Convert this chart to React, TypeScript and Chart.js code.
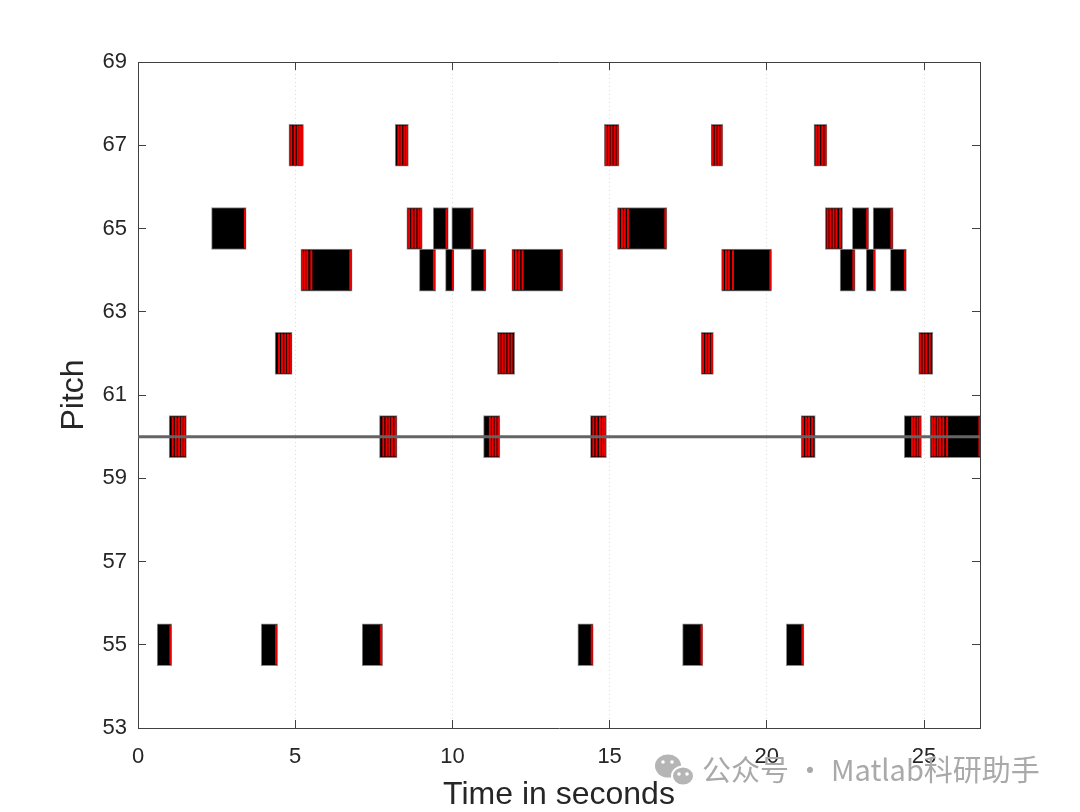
import React, { useEffect, useRef } from "react";
import { Chart, registerables } from "chart.js";

Chart.register(...registerables);

// ---------- data ----------
const notePitch = [55, 60, 65, 55, 62, 67, 64, 55, 60, 67, 65, 64, 65, 64, 65, 64, 60, 62, 64, 55, 60, 67, 65, 55, 62, 67, 64, 55, 60, 67, 65, 64, 65, 64, 65, 64, 60, 62, 60];
const noteStart = [0.61, 0.99, 2.34, 3.92, 4.36, 4.8, 5.18, 7.13, 7.68, 8.18, 8.55, 8.95, 9.39, 9.78, 9.98, 10.59, 10.99, 11.43, 11.89, 13.99, 14.39, 14.83, 15.25, 17.32, 17.91, 18.23, 18.56, 20.62, 21.09, 21.5, 21.86, 22.33, 22.72, 23.16, 23.38, 23.93, 24.37, 24.83, 25.19];
const noteEnd = [1.07, 1.54, 3.44, 4.44, 4.9, 5.26, 6.81, 7.78, 8.24, 8.6, 9.04, 9.47, 9.87, 10.05, 10.67, 11.07, 11.51, 11.98, 13.51, 14.48, 14.9, 15.3, 16.82, 17.96, 18.3, 18.6, 20.15, 21.18, 21.54, 21.91, 22.41, 22.81, 23.24, 23.46, 24.02, 24.44, 24.92, 25.28, 26.83];
// red onset / offset marks inside each note (seconds)
const noteStripes = [
  [1.01],
  [1.08, 1.18, 1.28, 1.37, 1.45],
  [3.38],
  [4.37],
  [4.46, 4.56, 4.66, 4.75, 4.84],
  [4.85, 4.96, 5.06, 5.13, 5.2],
  [5.2, 5.28, 5.36, 5.49, 6.73],
  [7.71],
  [7.78, 7.88, 7.97, 8.06, 8.16],
  [8.26, 8.35, 8.45, 8.53],
  [8.6, 8.7, 8.8, 8.9, 8.98],
  [9.39],
  [9.79],
  [9.99],
  [10.59],
  [11.0],
  [11.17, 11.26, 11.35, 11.44],
  [11.48, 11.57, 11.66, 11.76, 11.86],
  [11.91, 12.0, 12.1, 12.21, 13.44],
  [14.41],
  [14.46, 14.56, 14.67, 14.76, 14.83],
  [14.86, 14.95, 15.04, 15.14, 15.23],
  [15.27, 15.37, 15.46, 15.56, 16.75],
  [17.9],
  [17.95, 18.05, 18.14, 18.23],
  [18.25, 18.35, 18.44, 18.53],
  [18.58, 18.68, 18.77, 18.9, 20.09],
  [21.11],
  [21.13, 21.23, 21.32, 21.42],
  [21.55, 21.64, 21.74, 21.84],
  [21.91, 22.0, 22.1, 22.19, 22.31],
  [22.73],
  [23.17],
  [23.39],
  [23.94],
  [24.37],
  [24.6, 24.68, 24.77, 24.85],
  [24.86, 24.96, 25.05, 25.16],
  [25.24, 25.32, 25.41, 25.49, 25.59, 25.71, 26.74],
];
const refPitch = 60;
const xMin = 0;
const xMax = 26.78;
const yMin = 53;
const yMax = 69;
const xTicks = [0, 5, 10, 15, 20, 25];
const yTicks = [53, 55, 57, 59, 61, 63, 65, 67, 69];
const xLabel = "Time in seconds";
const yLabel = "Pitch";
const watermark = "公众号 · Matlab科研助手";

const STRIPE_W = 0.045;
const FONT = '"Liberation Sans", Arial, Helvetica, sans-serif';
const AX = "#404040";
const TXT = "#262626";

const textPlugin = {
  id: "textPlugin",
  afterDraw(chart: any) {
    const { ctx, chartArea } = chart;
    ctx.save();
    ctx.fillStyle = TXT;
    ctx.font = `32px ${FONT}`;
    ctx.textAlign = "center";
    ctx.textBaseline = "alphabetic";
    ctx.fillText(xLabel, (chartArea.left + chartArea.right) / 2, 804);
    ctx.save();
    ctx.translate(83, (chartArea.top + chartArea.bottom) / 2);
    ctx.rotate(-Math.PI / 2);
    ctx.fillText(yLabel, 0, 0);
    ctx.restore();

    // watermark
    ctx.fillStyle = "#b5b5b5";
    ctx.beginPath();
    ctx.ellipse(668, 766, 13, 11.5, 0, 0, Math.PI * 2);
    ctx.fill();
    ctx.strokeStyle = "#ffffff";
    ctx.lineWidth = 2;
    ctx.beginPath();
    ctx.ellipse(683, 776, 11, 9.5, 0, 0, Math.PI * 2);
    ctx.fill();
    ctx.stroke();
    ctx.fillStyle = "#ffffff";
    [[663, 762], [672, 762], [679, 774], [687, 774]].forEach(([x, y]) => {
      ctx.beginPath();
      ctx.arc(x, y, 1.8, 0, Math.PI * 2);
      ctx.fill();
    });
    ctx.fillStyle = "#a9a9a9";
    ctx.font = `29px "Noto Sans CJK SC", "Noto Sans", sans-serif`;
    ctx.textAlign = "left";
    ctx.fillText(watermark, 702, 781);
    ctx.restore();
  },
};

export default function App() {
  const ref = useRef<HTMLCanvasElement>(null);

  useEffect(() => {
    if (!ref.current) return;
    const noteData = notePitch.map((p, i) => ({ x: [noteStart[i], noteEnd[i]], y: p }));
    const stripeData: any[] = [];
    noteStripes.forEach((arr, i) => {
      arr.forEach((t) => stripeData.push({ x: [t, t + STRIPE_W], y: notePitch[i] }));
    });

    const setTicks = (vals: number[]) => (s: any) => {
      s.ticks = vals.map((v) => ({ value: v }));
    };

    const chart = new Chart(ref.current, {
      type: "bar",
      data: {
        datasets: [
          {
            type: "line",
            indexAxis: "x",
            xAxisID: "x",
            yAxisID: "y",
            data: [
              { x: xMin, y: refPitch },
              { x: xMax, y: refPitch },
            ],
            borderColor: "#646464",
            borderWidth: 3,
            pointRadius: 0,
            order: 0,
          } as any,
          {
            type: "bar",
            xAxisID: "x",
            yAxisID: "y",
            data: stripeData,
            backgroundColor: "#e80000",
            borderWidth: 0,
            barThickness: 39,
            grouped: false,
            order: 1,
          } as any,
          {
            type: "bar",
            xAxisID: "x",
            yAxisID: "y",
            data: noteData,
            backgroundColor: "#000000",
            borderColor: "#8a8a8a",
            borderWidth: 1,
            borderSkipped: false,
            barThickness: 42,
            grouped: false,
            order: 2,
          } as any,
        ],
      },
      options: {
        indexAxis: "y",
        responsive: false,
        animation: false,
        devicePixelRatio: 1,
        layout: { padding: 0 },
        plugins: {
          legend: { display: false },
          tooltip: { enabled: false },
          title: { display: false },
        },
        scales: {
          x: {
            type: "linear",
            position: "bottom",
            min: xMin,
            max: xMax,
            offset: false,
            afterBuildTicks: setTicks(xTicks),
            afterFit: (s: any) => {
              s.height = 84;
            },
            ticks: {
              color: TXT,
              font: { size: 22, family: FONT },
              padding: 24,
              maxRotation: 0,
              autoSkip: false,
            },
            grid: {
              offset: false,
              drawOnChartArea: true,
              color: "#d9d9d9",
              lineWidth: 1,
              drawTicks: true,
              tickLength: -8,
              tickColor: AX,
            },
            border: { display: true, color: AX, width: 1, dash: [1, 3] },
          },
          x2: {
            type: "linear",
            position: "top",
            min: xMin,
            max: xMax,
            offset: false,
            afterBuildTicks: setTicks(xTicks),
            afterFit: (s: any) => {
              s.height = 62;
            },
            ticks: { display: false },
            grid: { offset: false, drawOnChartArea: false, drawTicks: true, tickLength: -8, tickColor: AX, color: AX },
            border: { display: true, color: AX, width: 1 },
          },
          y: {
            type: "linear",
            position: "left",
            min: yMin,
            max: yMax,
            offset: false,
            afterBuildTicks: setTicks(yTicks),
            afterFit: (s: any) => {
              s.width = 138;
            },
            ticks: {
              color: TXT,
              font: { size: 22, family: FONT },
              padding: 19,
              autoSkip: false,
            },
            grid: { offset: false, drawOnChartArea: false, drawTicks: true, tickLength: -8, tickColor: AX, color: AX },
            border: { display: true, color: AX, width: 1 },
          },
          y2: {
            type: "linear",
            position: "right",
            min: yMin,
            max: yMax,
            offset: false,
            afterBuildTicks: setTicks(yTicks),
            afterFit: (s: any) => {
              s.width = 100;
            },
            ticks: { display: false },
            grid: { offset: false, drawOnChartArea: false, drawTicks: true, tickLength: -8, tickColor: AX, color: AX },
            border: { display: true, color: AX, width: 1 },
          },
        },
      } as any,
      plugins: [textPlugin],
    });
    return () => chart.destroy();
  }, []);

  return (
    <div style={{ position: "fixed", left: 0, top: 0, width: 1080, height: 812, background: "#ffffff" }}>
      <canvas ref={ref} width={1080} height={812} style={{ width: 1080, height: 812, display: "block" }} />
    </div>
  );
}
